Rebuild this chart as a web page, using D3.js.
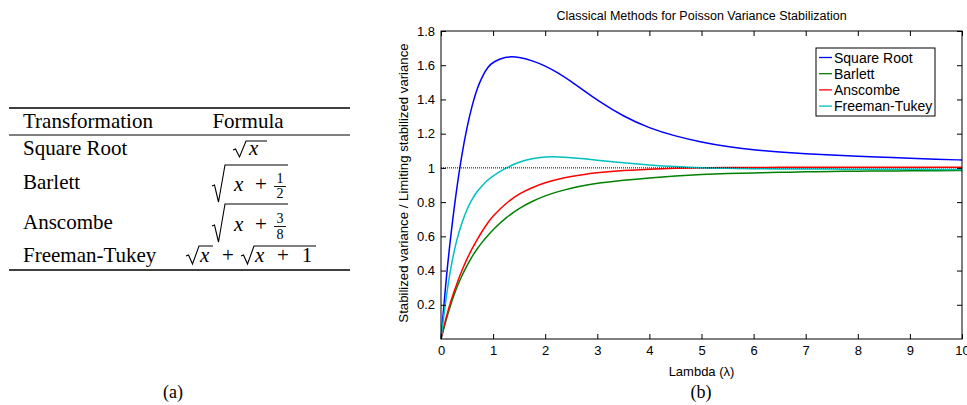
<!DOCTYPE html>
<html>
<head>
<meta charset="utf-8">
<script src="https://d3js.org/d3.v7.min.js"></script>
<style>
body { margin: 0; background: #fff; }
</style>
</head>
<body>
<script>
// lambda grid and ratio of stabilized variance
var lambda = [0, 0.1, 0.2, 0.3, 0.4, 0.5, 0.6, 0.7, 0.8, 0.9, 1.0, 1.25, 1.5, 1.75, 2, 2.25, 2.5, 2.75, 3, 3.5, 4, 4.5, 5, 5.5, 6, 6.5, 7, 7.5, 8, 8.5, 9, 9.5, 10];
var squareRoot = [0, 0.36, 0.64, 0.88, 1.08, 1.24, 1.37, 1.47, 1.54, 1.59, 1.62, 1.652, 1.648, 1.627, 1.597, 1.555, 1.505, 1.45, 1.395, 1.30, 1.232, 1.185, 1.15, 1.123, 1.105, 1.093, 1.083, 1.075, 1.068, 1.062, 1.056, 1.051, 1.046];
var barlett = [0, 0.115, 0.215, 0.30, 0.37, 0.43, 0.485, 0.53, 0.57, 0.605, 0.64, 0.71, 0.765, 0.805, 0.838, 0.862, 0.882, 0.898, 0.91, 0.928, 0.942, 0.953, 0.961, 0.967, 0.971, 0.974, 0.977, 0.979, 0.981, 0.982, 0.983, 0.984, 0.985];
var anscombe = [0, 0.13, 0.235, 0.32, 0.40, 0.47, 0.53, 0.585, 0.635, 0.68, 0.72, 0.795, 0.85, 0.885, 0.915, 0.935, 0.95, 0.962, 0.972, 0.985, 0.993, 0.998, 1.001, 1.002, 1.003, 1.003, 1.004, 1.004, 1.004, 1.004, 1.004, 1.004, 1.004];
var freemanTukey = [0, 0.25, 0.44, 0.58, 0.68, 0.76, 0.82, 0.865, 0.90, 0.93, 0.955, 1.0, 1.035, 1.055, 1.065, 1.065, 1.06, 1.053, 1.045, 1.03, 1.017, 1.007, 1.0, 0.997, 0.995, 0.994, 0.993, 0.993, 0.992, 0.992, 0.992, 0.991, 0.991];
var seriesNames = ["Square Root", "Barlett", "Anscombe", "Freeman-Tukey"];
var seriesColors = ["#0000ff", "#008000", "#ff0000", "#00bfbf"];
var xTicks = [0, 1, 2, 3, 4, 5, 6, 7, 8, 9, 10];
var yTicks = [0.2, 0.4, 0.6, 0.8, 1, 1.2, 1.4, 1.6, 1.8];

// table rows
var tableNames = ["Square Root", "Barlett", "Anscombe", "Freeman-Tukey"];

var w = 967, h = 405;
var svg = d3.select("body").append("svg").attr("width", w).attr("height", h);

// ---------- (a) table ----------
var serif = "'Liberation Serif', 'Times New Roman', serif";
var tab = svg.append("g").attr("font-family", serif).attr("fill", "#000");
[108, 135, 270].forEach(function(yy, i){
  tab.append("line").attr("x1", 9).attr("x2", 350).attr("y1", yy).attr("y2", yy)
    .attr("stroke", "#000").attr("stroke-width", i == 1 ? 1 : 1.3);
});
tab.append("text").attr("x", 23).attr("y", 128).attr("font-size", 21).text("Transformation");
tab.append("text").attr("x", 248).attr("y", 128).attr("font-size", 21).attr("text-anchor", "middle").text("Formula");
var rowY = [155, 189, 229, 262];
tableNames.forEach(function(n, i){
  tab.append("text").attr("x", 23).attr("y", rowY[i]).attr("font-size", 21).text(n);
});

function radical(x0, yTick, yBot, yTop, xEnd){
  // small lead-in, down stroke, long up stroke, vinculum
  var p = "M" + x0 + "," + (yTick + 1) + " L" + (x0 + 2.5) + "," + yTick +
          " L" + (x0 + 6.5) + "," + yBot + " L" + (x0 + 13) + "," + yTop + " L" + xEnd + "," + yTop;
  tab.append("path").attr("d", p).attr("fill", "none").attr("stroke", "#000").attr("stroke-width", 1.1);
}
function mi(x, y, s){ tab.append("text").attr("x", x).attr("y", y).attr("font-size", 21).attr("font-style", "italic").text(s); }
function mr(x, y, s, fs){ tab.append("text").attr("x", x).attr("y", y).attr("font-size", fs || 21).attr("text-anchor", "middle").text(s); }

// row 1: sqrt(x)
radical(233, 149, 157, 141, 267);
mi(249, 155, "x");
// row 2: sqrt(x + 1/2)
radical(212, 185, 202, 165, 288);
mi(234, 191, "x");
mr(261, 191, "+");
mr(280, 183, "1", 14);
tab.append("line").attr("x1", 274).attr("x2", 286).attr("y1", 186.5).attr("y2", 186.5).attr("stroke", "#000").attr("stroke-width", 0.9);
mr(280, 198, "2", 14);
// row 3: sqrt(x + 3/8)
radical(212, 225, 242, 204, 288);
mi(234, 231, "x");
mr(261, 231, "+");
mr(280, 223, "3", 14);
tab.append("line").attr("x1", 274).attr("x2", 286).attr("y1", 226.5).attr("y2", 226.5).attr("stroke", "#000").attr("stroke-width", 0.9);
mr(280, 239, "8", 14);
// row 4: sqrt(x) + sqrt(x + 1)
radical(186, 255, 264, 246, 213);
mi(200, 262, "x");
mr(228, 262, "+");
radical(241, 255, 264, 246, 316);
mi(255, 262, "x");
mr(283, 262, "+");
mr(307, 262, "1");

svg.append("text").attr("x", 173).attr("y", 398).attr("font-family", serif).attr("font-size", 18)
  .attr("text-anchor", "middle").text("(a)");
svg.append("text").attr("x", 701).attr("y", 398).attr("font-family", serif).attr("font-size", 18)
  .attr("text-anchor", "middle").text("(b)");

// ---------- (b) chart ----------
var sans = "'Liberation Sans', Arial, sans-serif";
var L = 441, R = 962, T = 31, B = 339;
var xScale = d3.scaleLinear().domain([0, 10]).range([L, R]);
var yScale = d3.scaleLinear().domain([0, 1.8]).range([B, T]);

var g = svg.append("g").attr("font-family", sans);

var line = d3.line().x(function(d){ return xScale(d[0]); }).y(function(d){ return yScale(d[1]); })
  .curve(d3.curveBasis);
[squareRoot, barlett, anscombe, freemanTukey].forEach(function(vals, i){
  var pts = lambda.map(function(l, k){ return [l, vals[k]]; });
  g.append("path").attr("d", line(pts)).attr("fill", "none")
    .attr("stroke", seriesColors[i]).attr("stroke-width", 1.5);
});

// reference line at 1
g.append("path").attr("d", line([[0, 1], [10, 1]])).attr("stroke", "#000")
  .attr("stroke-width", 1).attr("stroke-dasharray", "1,1").attr("fill", "none");

// axes
var xAxis = d3.axisBottom(xScale).tickValues(xTicks).tickSize(-5).tickSizeOuter(0).tickPadding(7).tickFormat(d3.format("d"));
var yAxis = d3.axisLeft(yScale).tickValues(yTicks).tickSize(-5).tickSizeOuter(0).tickPadding(6).tickFormat(function(d){ return String(+d.toFixed(1)); });
var xTop = d3.axisTop(xScale).tickValues(xTicks).tickSize(-5).tickSizeOuter(0).tickFormat("");
var yRight = d3.axisRight(yScale).tickValues(yTicks).tickSize(-5).tickSizeOuter(0).tickFormat("");
[[xAxis, "translate(0," + B + ")"], [yAxis, "translate(" + L + ",0)"], [xTop, "translate(0," + T + ")"], [yRight, "translate(" + R + ",0)"]].forEach(function(a){
  var ax = g.append("g").attr("transform", a[1]).call(a[0]);
  ax.select(".domain").remove();
  ax.selectAll("text").attr("font-size", 13).attr("font-family", sans).attr("fill", "#000");
  ax.selectAll("line").attr("stroke", "#000");
});
g.append("rect").attr("x", L).attr("y", T).attr("width", R - L).attr("height", B - T)
  .attr("fill", "none").attr("stroke", "#000").attr("stroke-width", 1);

// titles
g.append("text").attr("x", (L + R) / 2).attr("y", 20).attr("text-anchor", "middle")
  .attr("font-size", 12.5).text("Classical Methods for Poisson Variance Stabilization");
g.append("text").attr("x", (L + R) / 2).attr("y", 376).attr("text-anchor", "middle")
  .attr("font-size", 13).text("Lambda (λ)");
g.append("text").attr("transform", "translate(408," + 183 + ") rotate(-90)").attr("text-anchor", "middle")
  .attr("font-size", 13.2).text("Stabilized variance / Limiting stabilized variance");

// legend
var lg = g.append("g");
lg.append("rect").attr("x", 816).attr("y", 48).attr("width", 119).attr("height", 68)
  .attr("fill", "#fff").attr("stroke", "#000").attr("stroke-width", 1);
seriesNames.forEach(function(n, i){
  var yy = 57.5 + i * 16.2;
  lg.append("line").attr("x1", 819).attr("x2", 832).attr("y1", yy).attr("y2", yy)
    .attr("stroke", seriesColors[i]).attr("stroke-width", 1.3);
  lg.append("text").attr("x", 834).attr("y", yy).attr("dy", "0.36em").attr("font-size", 14).text(n);
});
</script>
</body>
</html>
